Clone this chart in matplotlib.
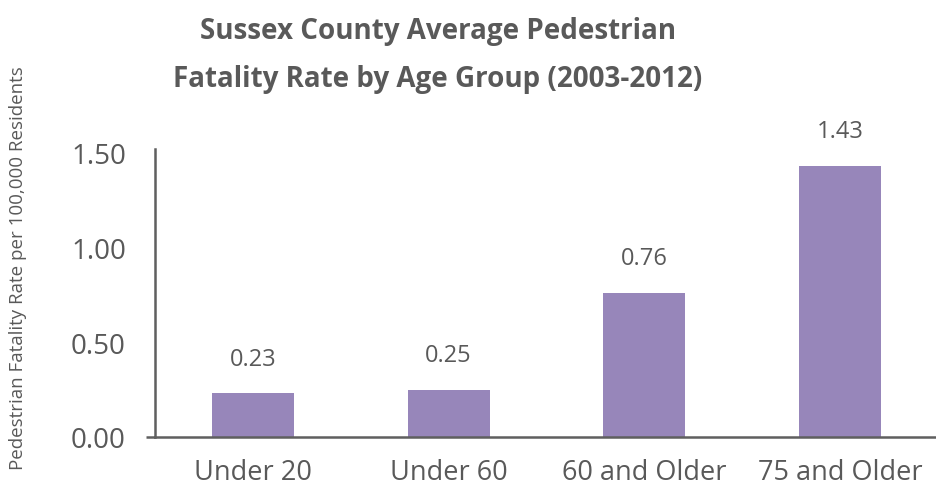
import matplotlib.pyplot as plt

plt.rcParams['font.family'] = ['Open Sans', 'DejaVu Sans']

categories = ['Under 20', 'Under 60', '60 and Older', '75 and Older']
rates = [0.23, 0.25, 0.76, 1.43]
yticks = [0.0, 0.5, 1.0, 1.5]

grey = '#595959'
bar_color = '#9786ba'

fig = plt.figure(figsize=(9.36, 4.89), dpi=100)
ax = fig.add_axes([0.1656, 0.1043, 0.8344, 0.589])

x = range(len(categories))
bars = ax.bar(x, rates, width=0.42, color=bar_color)

for xi, v in zip(x, rates):
    ax.annotate(f'{v:.2f}', (xi, v), xytext=(0, 25), textcoords='offset points',
                ha='center', va='center', fontsize=17, color=grey)

ax.set_xlim(-0.5, 3.49)
ax.set_ylim(0, 1.52)
ax.set_xticks(list(x))
ax.set_xticklabels(categories, fontsize=19.5, color=grey)
ax.set_yticks(yticks)
ax.set_yticklabels([f'{t:.2f}' for t in yticks], fontsize=20, color=grey)
ax.tick_params(axis='both', length=0)
ax.tick_params(axis='y', pad=21)
ax.tick_params(axis='x', pad=15)

for s in ['top', 'right']:
    ax.spines[s].set_visible(False)
for s in ['left', 'bottom']:
    ax.spines[s].set_color('#5f5f5f')
    ax.spines[s].set_linewidth(1.8)
# small stub of the baseline left of the y axis
ax.plot([-0.012, 0], [0, 0], transform=ax.get_yaxis_transform(), color='#5f5f5f',
        lw=1.8, clip_on=False, solid_capstyle='butt')

fig.text(0.468, 0.887, 'Sussex County Average Pedestrian\nFatality Rate by Age Group (2003-2012)',
         ha='center', va='center', fontsize=20, fontweight='bold', color=grey,
         linespacing=1.85)
fig.text(0.019, 0.452, 'Pedestrian Fatality Rate per 100,000 Residents', rotation=90,
         ha='center', va='center', fontsize=13.5, color=grey)

plt.savefig('out.png', dpi=100)
plt.close()
